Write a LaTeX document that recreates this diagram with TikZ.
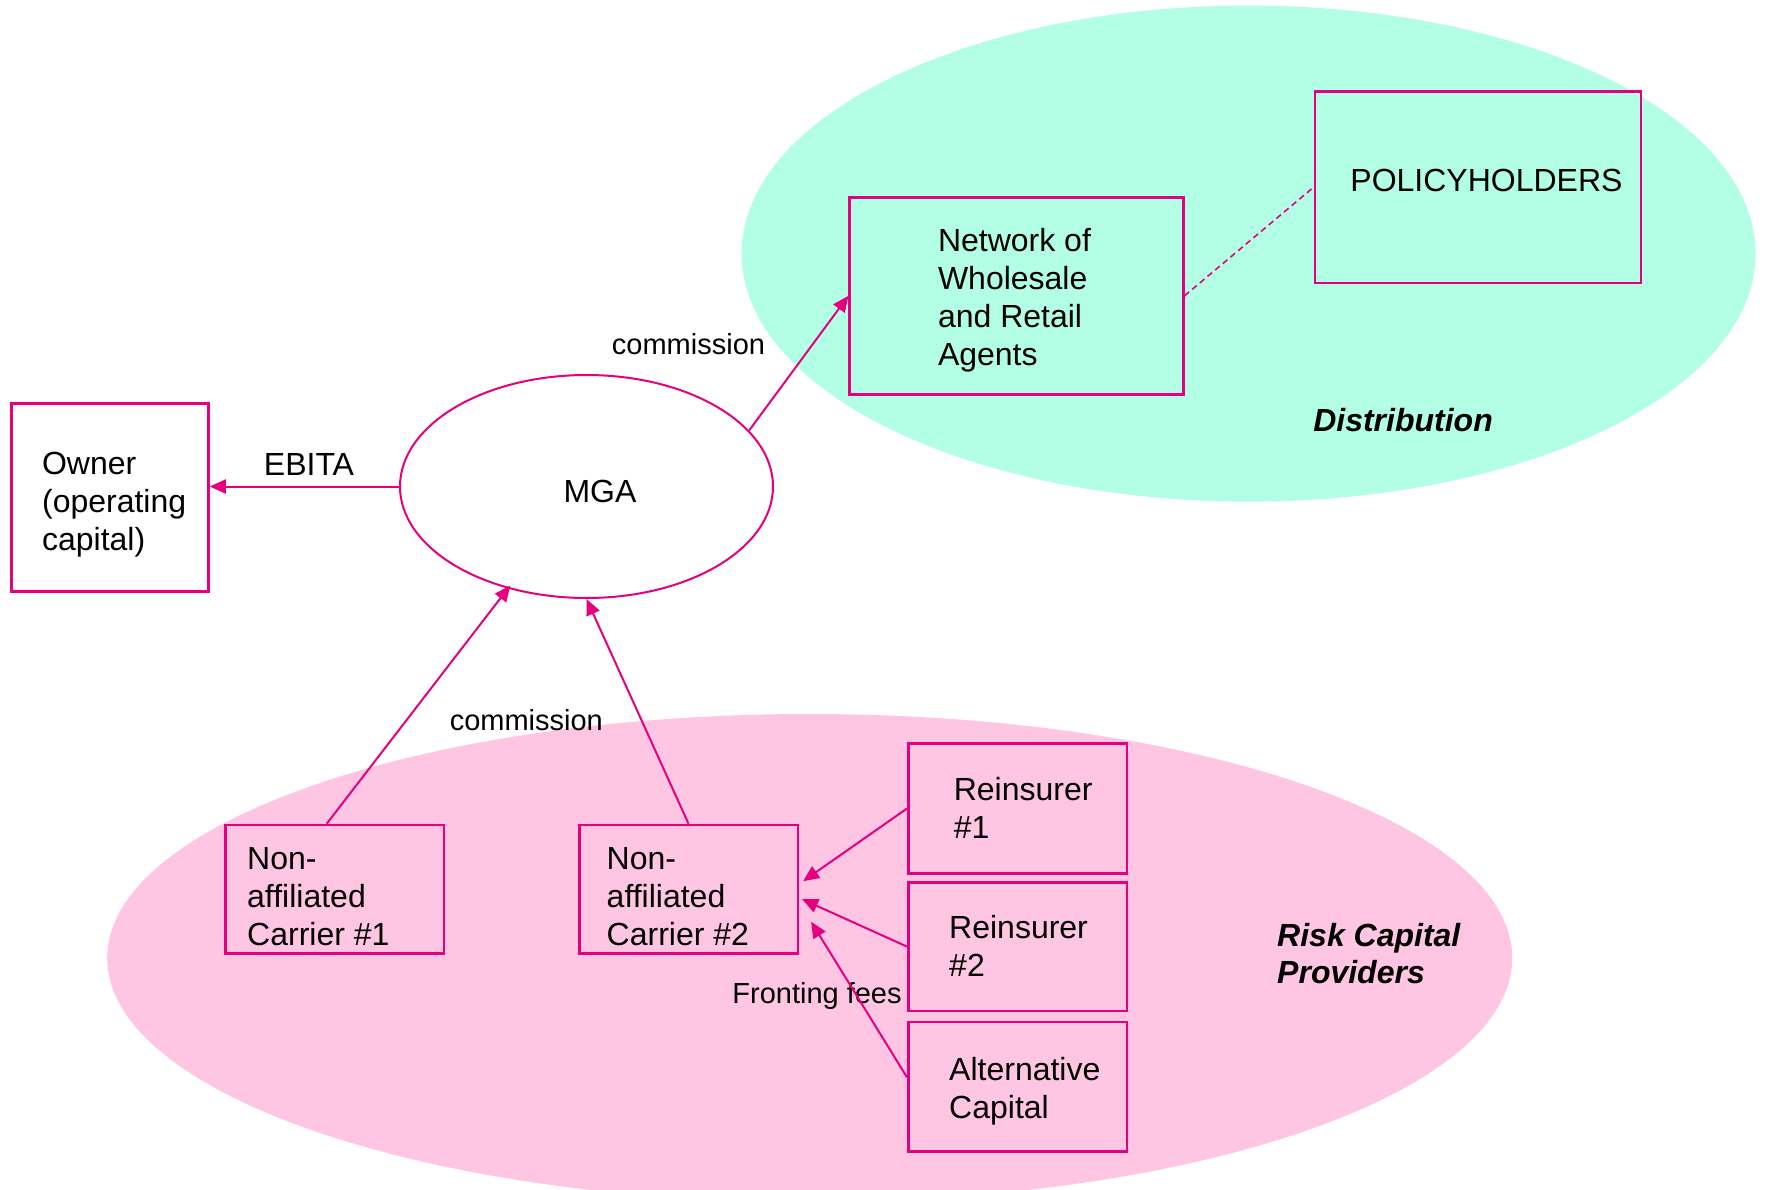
\documentclass[tikz,border=0pt]{standalone}
\usepackage{fontspec}
\setmainfont{Liberation Sans}
\usetikzlibrary{shapes.geometric,arrows.meta,calc}
\definecolor{mag}{RGB}{230,0,126}
\definecolor{mint}{RGB}{178,255,230}
\definecolor{pinkfill}{RGB}{255,198,227}
\begin{document}
\begin{tikzpicture}[x=0.5pt,y=-0.5pt,
 box/.style={draw=mag, line width=1.3pt, rectangle, inner sep=0pt},
 txt/.style={inner sep=0pt, anchor=west, align=left, font=\fontsize{16}{19}\selectfont},
 big/.style={inner sep=0pt, font=\fontsize{16}{19}\selectfont},
 lbl/.style={inner sep=0pt, font=\fontsize{14.5}{17}\selectfont},
 arr/.style={draw=mag, line width=1pt, -{Triangle[length=8pt,width=7pt]}},
 region/.style={ellipse, inner sep=0pt, draw=none},
 ttl/.style={inner sep=0pt, align=left, font=\fontsize{16}{18.6}\selectfont\bfseries\itshape}
]
\useasboundingbox (0,0) rectangle (1767,1189);
\fill[white] (0,0) rectangle (1767,1189);
% regions
\node[region, fill=mint, minimum width=507pt, minimum height=248pt] (dist) at (1248.6,253.6) {};
\node[region, fill=pinkfill, minimum width=702.5pt, minimum height=244pt] (risk) at (809.7,958) {};
% boxes
\node[box, minimum width=98.6pt, minimum height=94.1pt] (owner) at (109.9,497.5) {};
\node[txt] (ownerT) at (41.7,504.5) {Owner\\(operating\\capital)};
\node[draw=mag, line width=1pt, ellipse, inner sep=0pt, minimum width=186.5pt, minimum height=111.5pt] (mga) at (586.5,486.5) {};
\node[big] (mgaT) at (600,491) {MGA};
\node[box, minimum width=166.75pt, minimum height=98.6pt] (net) at (1016.5,295.8) {};
\node[txt] (netT) at (937.6,300) {Network of\\Wholesale\\and Retail\\Agents};
\node[box, minimum width=162.9pt, minimum height=95.8pt] (pol) at (1477.9,187.1) {};
\node[txt] (polT) at (1350,180.3) {POLICYHOLDERS};
\node[box, minimum width=109.3pt, minimum height=64.2pt] (c1) at (334.7,889.2) {};
\node[txt] (c1T) at (246.8,896.5) {Non-\\affiliated\\Carrier \#1};
\node[box, minimum width=109.3pt, minimum height=64.2pt] (c2) at (688.5,889.2) {};
\node[txt] (c2T) at (606.3,896.5) {Non-\\affiliated\\Carrier \#2};
\node[box, minimum width=109.3pt, minimum height=64.75pt] (re1) at (1017.6,808.5) {};
\node[txt] (re1T) at (953.4,807.4) {Reinsurer\\\#1};
\node[box, minimum width=109.3pt, minimum height=64.2pt] (re2) at (1017.6,946.6) {};
\node[txt] (re2T) at (948.8,946) {Reinsurer\\\#2};
\node[box, minimum width=109.3pt, minimum height=64.8pt] (alt) at (1017.6,1086.9) {};
\node[txt] (altT) at (948.8,1091.5) {Alternative\\Capital};
% labels
\node[big] (ebita) at (309,464) {EBITA};
\node[lbl] (comm1) at (688.5,344.5) {commission};
\node[lbl] (comm2) at (526.3,720) {commission};
\node[lbl] (front) at (817,996) {Fronting fees};
\node[ttl] (distT) at (1403,420) {Distribution};
\node[ttl, anchor=west] (riskT) at (1276.8,953.5) {Risk Capital\\Providers};
% connectors
\draw[arr] (mga.west) -- (mga.west -| owner.east);
\draw[arr] (mga.19) -- (net.west);
\draw[mag, line width=0.8pt, dash pattern=on 3pt off 2pt] (net.east) -- (pol.west);
\draw[arr, shorten >=-2pt] ($(c1.north west)!0.464!(c1.north east)$) -- (mga);
\draw[arr] (c2.north) -- (mga.south);
\coordinate (t1) at ($(c2.east)+(4,-8)$);
\coordinate (t2) at ($(c2.east)+(3,10)$);
\coordinate (t3) at ($(c2.east)+(12,32.5)$);
\draw[arr] (re1.west) -- (t1);
\draw[arr] (re2.west) -- (t2);
\draw[arr] ($(alt.west)+(0,-9.6)$) -- (t3);
\end{tikzpicture}
\end{document}
